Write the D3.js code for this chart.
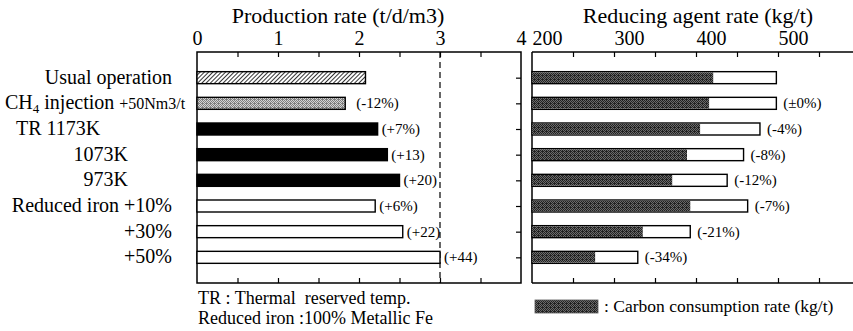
<!DOCTYPE html>
<html>
<head>
<meta charset="utf-8">
<script src="https://cdn.jsdelivr.net/npm/d3@7"></script>
<style>
  body { margin: 0; background: #fff; }
  svg text { font-family: "Liberation Serif", "DejaVu Serif", serif; fill: #000; }
</style>
</head>
<body>
<svg id="chart" width="853" height="331" font-family="Liberation Serif, DejaVu Serif, serif"></svg>
<script>
// cases (rows), top to bottom
const cases = ["Usual operation", "CH4 injection", "TR 1173K", "1073K", "973K", "Reduced iron +10%", "+30%", "+50%"];
const caseKind = ["usual", "ch4", "tr", "tr", "tr", "ri", "ri", "ri"];
// production rate (t/d/m3)
const productionRate = [2.08, 1.83, 2.23, 2.35, 2.50, 2.20, 2.54, 3.00];
const productionNotes = ["", "(-12%)", "(+7%)", "(+13)", "(+20)", "(+6%)", "(+22)", "(+44)"];
// reducing agent rate and carbon consumption rate (kg/t)
const reducingRate = [498, 498, 478, 458, 438, 463, 393, 329];
const carbonRate = [421, 416, 405, 389, 371, 393, 335, 277];
const reducingNotes = ["", "(\u00b10%)", "(-4%)", "(-8%)", "(-12%)", "(-7%)", "(-21%)", "(-34%)"];
// tick labels
const prodTicks = [0, 1, 2, 3, 4];
const redTicks = [200, 300, 400, 500];

const serif = "'Liberation Serif', 'DejaVu Serif', serif";
const svg = d3.select("#chart");
svg.append("rect").attr("width", 853).attr("height", 331).attr("fill", "#fff");

// fill patterns (hatch and halftone look of the print)
const defs = svg.append("defs");
const hatch = defs.append("pattern").attr("id", "hatch")
    .attr("patternUnits", "userSpaceOnUse").attr("width", 3).attr("height", 3)
    .attr("patternTransform", "rotate(45)");
hatch.append("rect").attr("width", 3).attr("height", 3).attr("fill", "#fff");
hatch.append("line").attr("x1", 0).attr("y1", 0).attr("x2", 0).attr("y2", 3)
    .attr("stroke", "#000").attr("stroke-width", 1.6);

// irregular dot layout so the halftone does not read as stripes
const dotCells = [[0, 0], [2, 0], [3, 1], [1, 1], [0, 2], [2, 3], [3, 3], [1, 3], [2, 2]];
function stipple(id, light, dark) {
    const p = defs.append("pattern").attr("id", id)
        .attr("patternUnits", "userSpaceOnUse").attr("width", 4).attr("height", 4);
    p.append("rect").attr("width", 4).attr("height", 4).attr("fill", light);
    p.selectAll("rect.dot").data(dotCells).join("rect").attr("class", "dot")
        .attr("x", d => d[0]).attr("y", d => d[1]).attr("width", 1).attr("height", 1)
        .attr("fill", dark);
}
stipple("lightDots", "#d4d4d4", "#7f7f7f");
stipple("darkDots", "#6a6a6a", "#222");

const fills = { usual: "url(#hatch)", ch4: "url(#lightDots)", tr: "#000", ri: "#fff" };

const yTop = 52, yBottom = 283;
const xP = d3.scaleLinear().domain([0, 4]).range([197, 521]);
const xR = d3.scaleLinear().domain([200, 500]).range([532, 778]);
const y = d3.scalePoint().domain(d3.range(cases.length)).range([yTop, yBottom]).padding(1);
const barH = 12;

function addText(sel, size) {
    return sel.append("text").style("font-family", serif).style("font-size", size + "px");
}

function styleAxis(g, size) {
    g.attr("font-family", null).attr("font-size", null);
    g.select(".domain").remove();
    g.selectAll("line").attr("stroke", "#000").attr("stroke-width", 1.2);
    g.selectAll("text").style("font-family", serif).style("font-size", size + "px");
}

// ----- left panel: production rate -----
addText(svg, 22).attr("x", 338).attr("y", 23).attr("text-anchor", "middle")
    .text("Production rate (t/d/m3)");

svg.append("rect").attr("x", xP(0)).attr("y", yTop)
    .attr("width", xP(4) - xP(0)).attr("height", yBottom - yTop)
    .attr("fill", "none").attr("stroke", "#000").attr("stroke-width", 1.5);

svg.append("g").attr("transform", `translate(0,${yTop})`)
    .call(d3.axisTop(xP).tickValues(d3.range(0.5, 4, 0.5)).tickSize(-5).tickFormat(""))
    .call(g => styleAxis(g, 18));
svg.append("g").attr("transform", `translate(0,${yBottom})`)
    .call(d3.axisBottom(xP).tickValues(d3.range(0.5, 4, 0.5)).tickSize(-5).tickFormat(""))
    .call(g => styleAxis(g, 18));
svg.append("g").attr("transform", `translate(0,${yTop})`)
    .call(d3.axisTop(xP).tickValues(prodTicks).tickSize(0).tickPadding(7).tickFormat(d3.format("d")))
    .call(g => styleAxis(g, 20));
// row ticks on the inner right edge
svg.append("g").attr("transform", `translate(${xP(4)},0)`)
    .call(d3.axisRight(y).tickSize(-5).tickFormat(""))
    .call(g => styleAxis(g, 18));

// dashed line at 3
svg.append("line").attr("x1", xP(3)).attr("x2", xP(3)).attr("y1", yTop).attr("y2", yBottom)
    .attr("stroke", "#000").attr("stroke-width", 1.2).attr("stroke-dasharray", "6,4");

svg.append("g").selectAll("rect").data(productionRate).join("rect")
    .attr("x", xP(0)).attr("y", (d, i) => y(i) - barH / 2)
    .attr("width", d => xP(d) - xP(0)).attr("height", barH)
    .attr("fill", (d, i) => fills[caseKind[i]])
    .attr("stroke", "#000").attr("stroke-width", 1.4);

svg.append("g").selectAll("text").data(productionNotes).join("text")
    .attr("x", (d, i) => xP(productionRate[i]) + (caseKind[i] === "ch4" ? 11 : 4))
    .attr("y", (d, i) => y(i) + 5)
    .style("font-family", serif).style("font-size", "15px").text(d => d);

// row labels
const labelEnd = k => k === "tr" ? 128 : 172;
const rowLabels = svg.append("g");
cases.forEach((c, i) => {
    const t = addText(rowLabels, 20).attr("y", y(i) + 6);
    if (caseKind[i] === "ch4") {
        t.attr("x", 5);
        t.append("tspan").text("CH");
        t.append("tspan").attr("dy", 4).style("font-size", "13px").text("4");
        t.append("tspan").attr("dy", -4).text(" injection ");
        t.append("tspan").style("font-size", "16px").text("+50Nm3/t");
    } else if (i === 2) {
        t.attr("x", 16).text(c);
    } else {
        t.attr("x", labelEnd(caseKind[i])).attr("text-anchor", "end").text(c);
    }
});

// ----- right panel: reducing agent rate -----
addText(svg, 22).attr("x", 698).attr("y", 23).attr("text-anchor", "middle")
    .text("Reducing agent rate (kg/t)");

const frame = svg.append("g").attr("stroke", "#000").attr("stroke-width", 1.5);
frame.append("line").attr("x1", 532).attr("x2", 853).attr("y1", yTop).attr("y2", yTop);
frame.append("line").attr("x1", 532).attr("x2", 853).attr("y1", yBottom).attr("y2", yBottom);
frame.append("line").attr("x1", 532).attr("x2", 532).attr("y1", yTop).attr("y2", yBottom);

const redMinor = d3.range(250, 600, 50);
svg.append("g").attr("transform", `translate(0,${yTop})`)
    .call(d3.axisTop(xR).tickValues(redMinor).tickSize(-5).tickFormat(""))
    .call(g => styleAxis(g, 18));
svg.append("g").attr("transform", `translate(0,${yBottom})`)
    .call(d3.axisBottom(xR).tickValues(redMinor).tickSize(-5).tickFormat(""))
    .call(g => styleAxis(g, 18));
svg.append("g").attr("transform", `translate(0,${yTop})`)
    .call(d3.axisTop(xR).tickValues(redTicks).tickSize(0).tickPadding(7).tickFormat(d3.format("d")))
    .call(g => styleAxis(g, 20))
    .call(g => g.selectAll("text").attr("dx", 15));

// total reducing agent (white, outlined) and carbon part (dark)
svg.append("g").selectAll("rect").data(reducingRate).join("rect")
    .attr("x", xR(200)).attr("y", (d, i) => y(i) - barH / 2)
    .attr("width", d => xR(d) - xR(200)).attr("height", barH)
    .attr("fill", "#fff").attr("stroke", "#000").attr("stroke-width", 1.4);
svg.append("g").selectAll("rect").data(carbonRate).join("rect")
    .attr("x", xR(200)).attr("y", (d, i) => y(i) - barH / 2 + 0.7)
    .attr("width", d => xR(d) - xR(200)).attr("height", barH - 1.4)
    .attr("fill", "url(#darkDots)");

svg.append("g").selectAll("text").data(reducingNotes).join("text")
    .attr("x", (d, i) => xR(reducingRate[i]) + 7)
    .attr("y", (d, i) => y(i) + 5)
    .style("font-family", serif).style("font-size", "15px").text(d => d);

// ----- notes and legend -----
addText(svg, 18).attr("x", 198).attr("y", 304)
    .attr("xml:space", "preserve").text("TR : Thermal  reserved temp.");
addText(svg, 18).attr("x", 198).attr("y", 324)
    .text("Reduced iron :100% Metallic Fe");

svg.append("rect").attr("x", 535).attr("y", 300).attr("width", 63).attr("height", 13)
    .attr("fill", "url(#darkDots)").attr("stroke", "#555").attr("stroke-width", 0.8);
addText(svg, 17.5).attr("x", 604).attr("y", 312)
    .text(": Carbon consumption rate (kg/t)");
</script>
</body>
</html>
